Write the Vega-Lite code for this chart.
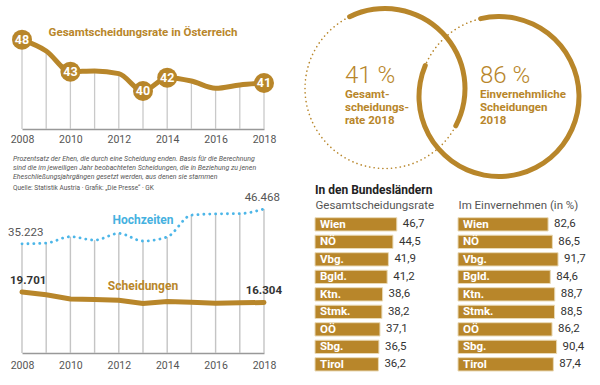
{
  "$schema": "https://vega.github.io/schema/vega-lite/v6.json",
  "background": "white",
  "padding": {"left": 8, "top": 5, "right": 0, "bottom": 0},
  "config": {
    "view": {"stroke": null},
    "font": "Roboto",
    "text": {"font": "Roboto"},
    "title": {"font": "Roboto", "subtitleFont": "Roboto"},
    "axis": {"labelFont": "Roboto", "titleFont": "Roboto"},
    "locale": {"number": {"decimal": ",", "thousands": ".", "grouping": [3], "currency": ["", " €"]}}
  },
  "datasets": {
    "rate": [
      {"jahr": 2008, "rate": 47.8}, {"jahr": 2009, "rate": 46.1}, {"jahr": 2010, "rate": 43.0},
      {"jahr": 2011, "rate": 43.1}, {"jahr": 2012, "rate": 42.7}, {"jahr": 2013, "rate": 40.1},
      {"jahr": 2014, "rate": 42.1}, {"jahr": 2015, "rate": 41.6}, {"jahr": 2016, "rate": 40.5},
      {"jahr": 2017, "rate": 41.0}, {"jahr": 2018, "rate": 41.3}
    ],
    "anzahl": [
      {"jahr": 2008, "serie": "Hochzeiten", "anzahl": 35223}, {"jahr": 2009, "serie": "Hochzeiten", "anzahl": 35469},
      {"jahr": 2010, "serie": "Hochzeiten", "anzahl": 37545}, {"jahr": 2011, "serie": "Hochzeiten", "anzahl": 36426},
      {"jahr": 2012, "serie": "Hochzeiten", "anzahl": 38592}, {"jahr": 2013, "serie": "Hochzeiten", "anzahl": 36140},
      {"jahr": 2014, "serie": "Hochzeiten", "anzahl": 37458}, {"jahr": 2015, "serie": "Hochzeiten", "anzahl": 44502},
      {"jahr": 2016, "serie": "Hochzeiten", "anzahl": 44890}, {"jahr": 2017, "serie": "Hochzeiten", "anzahl": 44975},
      {"jahr": 2018, "serie": "Hochzeiten", "anzahl": 46468},
      {"jahr": 2008, "serie": "Scheidungen", "anzahl": 19701}, {"jahr": 2009, "serie": "Scheidungen", "anzahl": 18806},
      {"jahr": 2010, "serie": "Scheidungen", "anzahl": 17442}, {"jahr": 2011, "serie": "Scheidungen", "anzahl": 17295},
      {"jahr": 2012, "serie": "Scheidungen", "anzahl": 17006}, {"jahr": 2013, "serie": "Scheidungen", "anzahl": 15958},
      {"jahr": 2014, "serie": "Scheidungen", "anzahl": 16647}, {"jahr": 2015, "serie": "Scheidungen", "anzahl": 16393},
      {"jahr": 2016, "serie": "Scheidungen", "anzahl": 16033}, {"jahr": 2017, "serie": "Scheidungen", "anzahl": 16180},
      {"jahr": 2018, "serie": "Scheidungen", "anzahl": 16304}
    ],
    "kreise": [
      {"kennzahl": "Gesamtscheidungsrate", "prozent": 41, "beschriftung": "Gesamt-\nscheidungs-\nrate 2018"},
      {"kennzahl": "Einvernehmliche Scheidungen", "prozent": 86, "beschriftung": "Einvernehmliche\nScheidungen\n2018"}
    ],
    "laender": [
      {"land": "Wien", "rate": 46.7, "einvernehmen": 82.6},
      {"land": "NÖ", "rate": 44.5, "einvernehmen": 86.5},
      {"land": "Vbg.", "rate": 41.9, "einvernehmen": 91.7},
      {"land": "Bgld.", "rate": 41.2, "einvernehmen": 84.6},
      {"land": "Ktn.", "rate": 38.6, "einvernehmen": 88.7},
      {"land": "Stmk.", "rate": 38.2, "einvernehmen": 88.5},
      {"land": "OÖ", "rate": 37.1, "einvernehmen": 86.2},
      {"land": "Sbg.", "rate": 36.5, "einvernehmen": 90.4},
      {"land": "Tirol", "rate": 36.2, "einvernehmen": 87.4}
    ]
  },
  "columns": 2,
  "spacing": {"row": 36.6, "column": 51},
  "bounds": "flush",
  "align": "each",
  "concat": [
    {
      "width": 242,
      "height": 100,
      "data": {"name": "rate"},
      "title": {"text": "Gesamtscheidungsrate in Österreich", "anchor": "middle", "frame": "group", "color": "#b8862a", "fontSize": 11.5, "fontWeight": "bold", "baseline": "alphabetic", "offset": -18},
      "encoding": {
        "x": {"field": "jahr", "type": "quantitative", "scale": {"domain": [2008, 2018], "nice": false, "zero": false},
          "axis": {"values": [2008, 2010, 2012, 2014, 2016, 2018], "format": "d", "labelFontSize": 10.5, "labelColor": "#555", "domainColor": "#999", "domainWidth": 1.5, "ticks": false, "grid": false, "title": null, "labelPadding": 5, "labelFlush": false}},
        "y": {"field": "rate", "type": "quantitative", "scale": {"domain": [34.4, 49.4], "nice": false, "zero": false}, "axis": null}
      },
      "layer": [
        {"mark": {"type": "rule", "color": "#c9c9c9", "strokeWidth": 1.3}, "encoding": {"y2": {"datum": 34.4}}},
        {"mark": {"type": "line", "color": "#b8862a", "strokeWidth": 5, "interpolate": "monotone", "strokeCap": "round"}},
        {"transform": [{"filter": {"field": "jahr", "oneOf": [2008, 2010, 2013, 2014, 2018]}}],
          "mark": {"type": "circle", "color": "#b8862a", "size": 400, "opacity": 1}},
        {"transform": [{"filter": {"field": "jahr", "oneOf": [2008, 2010, 2013, 2014, 2018]}}],
          "mark": {"type": "text", "color": "white", "fontWeight": "bold", "fontSize": 12.5, "baseline": "middle", "align": "center"},
          "encoding": {"text": {"field": "rate", "type": "quantitative", "format": ".0f"}}}
      ]
    },
    {
      "width": 285,
      "height": 150,
      "data": {"name": "kreise"},
      "encoding": {
        "x": {"field": "kennzahl", "type": "nominal", "scale": {"type": "point", "domain": ["Gesamtscheidungsrate", "Einvernehmliche Scheidungen"], "range": [70, 184], "padding": 0}, "axis": null},
        "y": {"field": "kennzahl", "type": "nominal", "scale": {"type": "point", "domain": ["Gesamtscheidungsrate", "Einvernehmliche Scheidungen"], "range": [59.5, 67.5], "padding": 0}, "axis": null}
      },
      "layer": [
        {"mark": {"type": "point", "shape": "circle", "size": 25600, "filled": false, "stroke": "#b8862a", "strokeWidth": 1.6, "strokeDash": [0.1, 4.3], "strokeCap": "round", "opacity": 1}},
        {"transform": [{"filter": "datum.kennzahl == 'Gesamtscheidungsrate'"}],
          "mark": {"type": "arc", "radius": 82.5, "radius2": 77.5, "cornerRadius": 2.5, "color": "#b8862a"},
          "encoding": {"theta": {"field": "prozent", "type": "quantitative", "stack": null, "scale": {"domain": [0, 100], "range": [-0.489, 5.794]}}, "theta2": {"datum": 0}}},
        {"transform": [{"filter": "datum.kennzahl == 'Einvernehmliche Scheidungen'"}],
          "mark": {"type": "arc", "radius": 82.5, "radius2": 77.5, "cornerRadius": 2.5, "color": "#b8862a"},
          "encoding": {"theta": {"field": "prozent", "type": "quantitative", "stack": null, "scale": {"domain": [0, 100], "range": [-0.262, 6.021]}}, "theta2": {"datum": 0}}},
        {"transform": [{"filter": "datum.kennzahl == 'Gesamtscheidungsrate'"}, {"calculate": "datum.prozent + ' %'", "as": "label"}],
          "mark": {"type": "text", "align": "left", "baseline": "alphabetic", "dx": -40, "dy": -6, "fontSize": 24, "fontWeight": 300, "color": "#b8862a"},
          "encoding": {"text": {"field": "label", "type": "nominal"}}},
        {"transform": [{"filter": "datum.kennzahl == 'Einvernehmliche Scheidungen'"}, {"calculate": "datum.prozent + ' %'", "as": "label"}],
          "mark": {"type": "text", "align": "left", "baseline": "alphabetic", "dx": -19, "dy": -14, "fontSize": 24, "fontWeight": 300, "color": "#b8862a"},
          "encoding": {"text": {"field": "label", "type": "nominal"}}},
        {"transform": [{"filter": "datum.kennzahl == 'Gesamtscheidungsrate'"}],
          "mark": {"type": "text", "align": "left", "baseline": "top", "dx": -40, "dy": 0.5, "fontSize": 11.5, "fontWeight": "bold", "lineHeight": 13, "lineBreak": "\n", "color": "#b8862a"},
          "encoding": {"text": {"field": "beschriftung", "type": "nominal"}}},
        {"transform": [{"filter": "datum.kennzahl == 'Einvernehmliche Scheidungen'"}],
          "mark": {"type": "text", "align": "left", "baseline": "top", "dx": -19, "dy": -7.5, "fontSize": 11.5, "fontWeight": "bold", "lineHeight": 13, "lineBreak": "\n", "color": "#b8862a"},
          "encoding": {"text": {"field": "beschriftung", "type": "nominal"}}}
      ],
      "resolve": {"scale": {"theta": "independent"}}
    },
    {
      "width": 242,
      "height": 137.4,
      "data": {"name": "anzahl"},
      "title": {
        "text": ["Prozentsatz der Ehen, die durch eine Scheidung enden. Basis für die Berechnung", "sind die im jeweiligen Jahr beobachteten Scheidungen, die in Beziehung zu jenen", "Eheschließungsjahrgängen gesetzt werden, aus denen sie stammen"],
        "subtitle": "Quelle: Statistik Austria · Grafik: „Die Presse“ · GK",
        "anchor": "start", "frame": "group", "dx": -9, "fontSize": 7, "fontStyle": "italic", "fontWeight": "normal", "color": "#555", "lineHeight": 9.2,
        "subtitleFontSize": 6.5, "subtitleColor": "#555", "subtitlePadding": 5, "offset": 0
      },
      "encoding": {
        "x": {"field": "jahr", "type": "quantitative", "scale": {"domain": [2008, 2018], "nice": false, "zero": false},
          "axis": {"values": [2008, 2010, 2012, 2014, 2016, 2018], "format": "d", "labelFontSize": 10.5, "labelColor": "#555", "domainColor": "#999", "domainWidth": 1.5, "ticks": false, "grid": false, "title": null, "labelPadding": 7, "labelFlush": false}},
        "y": {"field": "anzahl", "type": "quantitative", "scale": {"domain": [0, 44338], "nice": false}, "axis": null}
      },
      "layer": [
        {"transform": [{"filter": "datum.serie == 'Hochzeiten'"}],
          "mark": {"type": "rule", "color": "#c4c4c4", "strokeWidth": 1.4}, "encoding": {"y2": {"datum": 0}}},
        {"transform": [{"filter": "datum.serie == 'Scheidungen'"}],
          "mark": {"type": "line", "color": "#b8862a", "strokeWidth": 5, "strokeCap": "round"}},
        {"transform": [{"filter": "datum.serie == 'Hochzeiten'"}],
          "mark": {"type": "line", "color": "#4cb6e8", "strokeWidth": 2.8, "strokeDash": [0.1, 5.8], "strokeCap": "round", "interpolate": "monotone"}},
        {"transform": [{"filter": "datum.serie == 'Hochzeiten'"}, {"filter": {"field": "jahr", "equal": 2008}}],
          "mark": {"type": "text", "align": "left", "baseline": "alphabetic", "dx": -14, "dy": -8, "fontSize": 11.5, "color": "#555"},
          "encoding": {"text": {"field": "anzahl", "type": "quantitative", "format": ",d"}}},
        {"transform": [{"filter": "datum.serie == 'Hochzeiten'"}, {"filter": {"field": "jahr", "equal": 2018}}],
          "mark": {"type": "text", "align": "right", "baseline": "alphabetic", "dx": 16, "dy": -8, "fontSize": 11.5, "color": "#555"},
          "encoding": {"text": {"field": "anzahl", "type": "quantitative", "format": ",d"}}},
        {"transform": [{"filter": "datum.serie == 'Scheidungen'"}, {"filter": {"field": "jahr", "equal": 2008}}],
          "mark": {"type": "text", "align": "left", "baseline": "alphabetic", "dx": -12, "dy": -8, "fontSize": 11.5, "fontWeight": "bold", "color": "#333"},
          "encoding": {"text": {"field": "anzahl", "type": "quantitative", "format": ",d"}}},
        {"transform": [{"filter": "datum.serie == 'Scheidungen'"}, {"filter": {"field": "jahr", "equal": 2018}}],
          "mark": {"type": "text", "align": "right", "baseline": "alphabetic", "dx": 18, "dy": -8, "fontSize": 11.5, "fontWeight": "bold", "color": "#333"},
          "encoding": {"text": {"field": "anzahl", "type": "quantitative", "format": ",d"}}},
        {"transform": [{"filter": "datum.serie == 'Hochzeiten'"}, {"filter": {"field": "jahr", "equal": 2013}}],
          "mark": {"type": "text", "align": "center", "baseline": "middle", "dy": -21, "fontSize": 12, "fontWeight": "bold", "color": "#45b1e0"},
          "encoding": {"text": {"field": "serie", "type": "nominal"}}},
        {"transform": [{"filter": "datum.serie == 'Scheidungen'"}, {"filter": {"field": "jahr", "equal": 2013}}],
          "mark": {"type": "text", "align": "center", "baseline": "middle", "dy": -18, "fontSize": 12, "fontWeight": "bold", "color": "#b8862a"},
          "encoding": {"text": {"field": "serie", "type": "nominal"}}}
      ]
    },
    {
      "width": 263,
      "height": 157.5,
      "data": {"name": "laender"},
      "title": {"text": "In den Bundesländern", "anchor": "start", "frame": "group", "fontSize": 12, "fontWeight": "bold", "color": "#222", "offset": 3},
      "encoding": {
        "y": {"field": "land", "type": "nominal", "sort": null, "scale": {"paddingInner": 0.24, "paddingOuter": 0.12}, "axis": null}
      },
      "layer": [
        {
          "encoding": {
            "x": {"field": "rate", "type": "quantitative", "scale": {"domain": [0, 62.8], "range": [0, 110], "nice": false},
              "axis": {"orient": "top", "title": "Gesamtscheidungsrate", "labels": false, "ticks": false, "domain": false, "grid": false, "titleAnchor": "start", "titleFontSize": 11.5, "titleFontWeight": "normal", "titleColor": "#555", "titlePadding": 5}}
          },
          "layer": [
            {"mark": {"type": "bar", "color": "#b8862a", "stroke": "#e9d9b5", "strokeWidth": 1}},
            {"mark": {"type": "text", "align": "left", "baseline": "middle", "dx": 6, "fontSize": 11.5, "color": "#333"},
              "encoding": {"text": {"field": "rate", "type": "quantitative", "format": ".1f"}}},
            {"mark": {"type": "text", "align": "left", "baseline": "middle", "dx": 5, "dy": 0.5, "fontSize": 11.5, "fontWeight": "bold", "color": "white"},
              "encoding": {"x": {"datum": 0}, "text": {"field": "land", "type": "nominal"}}}
          ]
        },
        {
          "encoding": {
            "x": {"field": "einvernehmen", "type": "quantitative", "scale": {"domain": [0, 110], "range": [143, 263], "nice": false},
              "axis": {"orient": "top", "title": "Im Einvernehmen (in %)", "labels": false, "ticks": false, "domain": false, "grid": false, "titleAnchor": "start", "titleFontSize": 11.5, "titleFontWeight": "normal", "titleColor": "#555", "titlePadding": 5}}
          },
          "layer": [
            {"mark": {"type": "bar", "color": "#b8862a", "stroke": "#e9d9b5", "strokeWidth": 1}},
            {"mark": {"type": "text", "align": "left", "baseline": "middle", "dx": 6, "fontSize": 11.5, "color": "#333"},
              "encoding": {"text": {"field": "einvernehmen", "type": "quantitative", "format": ".1f"}}},
            {"mark": {"type": "text", "align": "left", "baseline": "middle", "dx": 5, "dy": 0.5, "fontSize": 11.5, "fontWeight": "bold", "color": "white"},
              "encoding": {"x": {"datum": 0}, "text": {"field": "land", "type": "nominal"}}}
          ]
        }
      ],
      "resolve": {"scale": {"x": "independent"}, "axis": {"x": "independent"}}
    }
  ]
}
